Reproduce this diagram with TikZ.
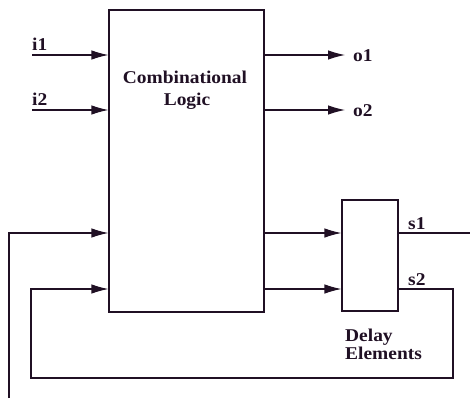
\documentclass[tikz,border=0pt]{standalone}
\usepackage{fontspec}
\setmainfont{Liberation Serif}[FakeStretch=1.08]
\usetikzlibrary{arrows.meta}
\definecolor{ink}{RGB}{32,16,36}
\begin{document}
\begin{tikzpicture}[x=1pt,y=-1pt,
  wire/.style={line width=1.1pt, draw=ink},
  sig/.style={wire, -{Latex[length=17pt,width=9.5pt]}},
  blk/.style={draw=ink, line width=1.1pt, inner sep=0pt},
  lbl/.style={text=ink, font=\fontsize{18}{19}\selectfont\bfseries, inner sep=0pt}]
\useasboundingbox (0,0) rectangle (470,398);

% blocks
\node[blk, minimum width=155pt, minimum height=302pt] (cl) at (186.5,161) {};
\node[blk, minimum width=56pt, minimum height=111pt] (de) at (370,255.5) {};

% wire end points
\coordinate (i1) at (32,55);
\coordinate (i2) at (32,110);
\coordinate (o1) at (345,55);
\coordinate (o2) at (345,110);
\coordinate (in) at (9,398);
\coordinate (q1) at (9,233);
\coordinate (q2) at (31,289);
\coordinate (s1e) at (470,233);
\coordinate (fr) at (453,378);

% primary inputs and outputs
\draw[sig] (i1) -- (i1 -| cl.west);
\draw[sig] (i2) -- (i2 -| cl.west);
\draw[sig] (cl.east |- o1) -- (o1);
\draw[sig] (cl.east |- o2) -- (o2);

% next-state lines into the delay elements
\draw[sig] (cl.east |- q1) -- (q1 -| de.west);
\draw[sig] (cl.east |- q2) -- (q2 -| de.west);

% external line into the logic
\draw[sig] (in) -- (q1) -- (q1 -| cl.west);

% state outputs
\draw[wire] (q1 -| de.east) -- (s1e);
\draw[sig] (q2 -| de.east) -- (fr |- q2) -- (fr) -- (q2 |- fr) -- (q2) -- (q2 -| cl.west);

% labels
\node[lbl, anchor=base west] (li1) at (32,51) {i1};
\node[lbl, anchor=base west] (li2) at (32,106) {i2};
\node[lbl, anchor=base west] (lo1) at (353,62) {o1};
\node[lbl, anchor=base west] (lo2) at (353,117) {o2};
\node[lbl, anchor=base west] (ls1) at (408,229) {s1};
\node[lbl, anchor=base west] (ls2) at (408,285) {s2};
\node[lbl, anchor=base] (lcomb) at (185,84) {Combinational};
\node[lbl, anchor=base] (llogic) at (187,106) {Logic};
\node[lbl, anchor=base west] (ldelay) at (345,341) {Delay};
\node[lbl, anchor=base west] (lelem) at (345,359) {Elements};
\end{tikzpicture}
\end{document}
